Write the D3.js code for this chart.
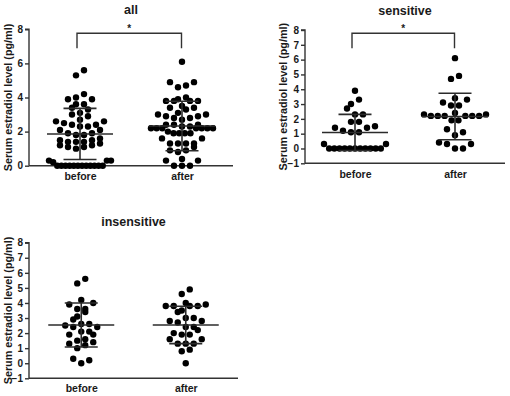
<!DOCTYPE html>
<html>
<head>
<meta charset="utf-8">
<script src="https://cdn.jsdelivr.net/npm/d3@7"></script>
<style>
  html, body { margin: 0; padding: 0; background: #fff; }
  svg { display: block; }
  text { font-family: "Liberation Sans", Arial, sans-serif; font-weight: bold; fill: #1a1a1a; }
</style>
</head>
<body>
<svg id="chart" width="510" height="396"></svg>
<script>
// ---------- data ----------
const categories = ["before", "after"];

const sensBefore = [3.9, 3.3, 3.0, 2.7, 2.3, 2.3, 1.8, 1.8, 1.5, 1.4, 1.4, 1.2, 1.1, 1.1, 0.3, 0.3,
  0, 0, 0, 0, 0, 0, 0, 0, 0, 0, 0];
const sensAfter = [6.1, 4.9, 4.7, 3.4, 3.3, 3.1, 2.9, 2.9, 2.4, 2.3, 2.3, 2.2, 2.2, 2.2, 2.2, 2.2, 2.2,
  1.9, 1.9, 1.3, 1.1, 0.9, 0.4, 0.3, 0.3, 0, 0];
const insensBefore = [5.6, 5.3, 4.2, 4.0, 3.9, 3.6, 3.6, 3.4, 3.1, 2.9, 2.6, 2.6, 2.5, 2.4, 2.4, 2.1, 2.1,
  1.9, 1.9, 1.6, 1.5, 1.4, 1.3, 1.2, 1.0, 0.3, 0.2, 0];
const insensAfter = [4.9, 4.6, 4.0, 3.9, 3.8, 3.8, 3.8, 3.8, 3.5, 3.4, 3.0, 3.0, 2.8, 2.8, 2.7, 2.4, 2.4,
  2.2, 2.0, 1.9, 1.9, 1.6, 1.6, 1.3, 1.3, 1.3, 0.9, 0.8, 0];
const allBefore = [5.6, 5.3, 4.2, 4.0, 3.9, 3.9, 3.6, 3.6, 3.4, 3.3, 3.1, 3.0, 2.9, 2.7, 2.6, 2.6, 2.5,
  2.4, 2.4, 2.3, 2.3, 2.1, 2.1, 1.9, 1.9, 1.8, 1.8, 1.6, 1.5, 1.5, 1.4, 1.4, 1.4, 1.3, 1.2, 1.2,
  1.1, 1.1, 1.0, 0.3, 0.3, 0.3, 0.2, 0, 0, 0, 0, 0, 0, 0, 0, 0, 0, 0, 0];
const allAfter = [6.1, 4.9, 4.9, 4.7, 4.6, 4.0, 3.9, 3.8, 3.8, 3.8, 3.8, 3.5, 3.4, 3.4, 3.3, 3.1, 3.0,
  3.0, 2.9, 2.9, 2.8, 2.8, 2.7, 2.4, 2.4, 2.4, 2.3, 2.3, 2.2, 2.2, 2.2, 2.2, 2.2, 2.2, 2.2, 2.0,
  1.9, 1.9, 1.9, 1.9, 1.6, 1.6, 1.3, 1.3, 1.3, 1.3, 1.1, 0.9, 0.9, 0.8, 0.4, 0.3, 0.3, 0, 0, 0];

const allMean = [1.86, 2.33], allSD = [1.50, 1.45];
const sensMean = [1.08, 2.16], sensSD = [1.22, 1.57];
const insensMean = [2.54, 2.54], insensSD = [1.46, 1.24];

const ticksAll = [0, 2, 4, 6, 8];
const ticksSub = [-1, 0, 1, 2, 3, 4, 5, 6, 7, 8];

const titles = ["all", "sensitive", "insensitive"];
const yLabel = "Serum estradiol level (pg/ml)";
const sigMark = "*";

// ---------- layout ----------
const panels = [
  { title: titles[0], series: [allBefore, allAfter], mean: allMean, sd: allSD,
    domain: [0, 8], ticks: ticksAll, x0: 29, x1: 233, yTop: 29.3, yBot: 165.7,
    titleY: 13.5, labelX: 8.5, xLabY: 180.5, sig: { y: 7.77, drop: 6.89 } },
  { title: titles[1], series: [sensBefore, sensAfter], mean: sensMean, sd: sensSD,
    domain: [-1, 8], ticks: ticksSub, x0: 305, x1: 505, yTop: 30, yBot: 163.3,
    titleY: 15, labelX: 283.5, xLabY: 178.5, sig: { y: 7.78, drop: 6.77 } },
  { title: titles[2], series: [insensBefore, insensAfter], mean: insensMean, sd: insensSD,
    domain: [-1, 8], ticks: ticksSub, x0: 29, x1: 238, yTop: 242.7, yBot: 378.3,
    titleY: 226, labelX: 8.5, xLabY: 392.5, sig: null }
];

const svg = d3.select("#chart");
const ink = "#333";
const R = 3.2;

function swarm(values, y, cx, sMax, maxW, rowPx) {
  const sorted = values.slice().sort((a, b) => a - b);
  const rows = [];
  let cur = [];
  sorted.forEach(v => {
    if (cur.length && (y(cur[0]) - y(v)) >= rowPx) { rows.push(cur); cur = []; }
    cur.push(v);
  });
  if (cur.length) rows.push(cur);
  const pts = [];
  rows.forEach(row => {
    const n = row.length;
    const s = n > 1 ? Math.min(sMax, maxW / (n - 1)) : 0;
    row.forEach((v, i) => {
      let off;
      if (n % 2 === 1) {
        const k = Math.ceil(i / 2);
        off = i === 0 ? 0 : (i % 2 ? 1 : -1) * k * s;
      } else {
        const k = Math.floor(i / 2);
        off = (i % 2 ? 1 : -1) * (k + 0.5) * s;
      }
      pts.push({ x: cx + off, y: y(v) });
    });
  });
  return pts;
}

panels.forEach(p => {
  const g = svg.append("g");
  const y = d3.scaleLinear().domain(p.domain).range([p.yBot, p.yTop]);
  const x = d3.scalePoint().domain(categories).range([p.x0, p.x1]).padding(0.5);

  // y axis
  const yAxis = d3.axisLeft(y).tickValues(p.ticks).tickSize(4).tickPadding(2).tickFormat(d3.format("d"));
  const ya = g.append("g").attr("transform", `translate(${p.x0},0)`).call(yAxis);
  ya.select(".domain").attr("stroke", ink).attr("stroke-width", 1.4).attr("d", `M-4,${p.yTop}H0V${p.yBot}`);
  ya.selectAll(".tick line").attr("stroke", ink).attr("stroke-width", 1.4);
  ya.selectAll(".tick text").style("font-size", "10px").style("font-family", "'Liberation Sans', Arial, sans-serif")
    .style("font-weight", "bold").attr("fill", "#222");

  // x axis
  const xAxis = d3.axisBottom(x).tickSize(0).tickPadding(0);
  const xa = g.append("g").attr("transform", `translate(0,${p.yBot})`).call(xAxis);
  xa.select(".domain").attr("stroke", ink).attr("stroke-width", 1.4).attr("d", `M${p.x0},0H${p.x1}`);
  xa.selectAll(".tick text").attr("y", p.xLabY - p.yBot).attr("dy", 0)
    .style("font-size", "10.5px").style("font-family", "'Liberation Sans', Arial, sans-serif")
    .style("font-weight", "bold").attr("fill", "#222");

  // title
  g.append("text").attr("x", (p.x0 + p.x1) / 2).attr("y", p.titleY).attr("text-anchor", "middle")
    .style("font-size", "12.5px").text(p.title);

  // y label
  g.append("text").attr("transform", `translate(${p.labelX},${(p.yTop + p.yBot) / 2}) rotate(-90)`)
    .attr("text-anchor", "middle").attr("dy", "0.35em").style("font-size", "10.8px").text(yLabel);

  // dots
  p.series.forEach((vals, i) => {
    const pts = swarm(vals, y, x(categories[i]), 8, 62, 6.5);
    g.append("g").selectAll("circle").data(pts).join("circle")
      .attr("cx", d => d.x).attr("cy", d => d.y).attr("r", R).attr("fill", "#000");
  });

  // mean & SD bars
  categories.forEach((c, i) => {
    const cx = x(c), m = p.mean[i], s = p.sd[i];
    const lo = Math.max(m - s, p.domain[0]);
    const bg = g.append("g").attr("stroke", "#2b2b2b").attr("stroke-width", 1.6).attr("fill", "none");
    bg.append("line").attr("x1", cx - 33).attr("x2", cx + 33).attr("y1", y(m)).attr("y2", y(m));
    bg.append("line").attr("x1", cx).attr("x2", cx).attr("y1", y(m + s)).attr("y2", y(lo));
    bg.append("line").attr("x1", cx - 16.5).attr("x2", cx + 16.5).attr("y1", y(m + s)).attr("y2", y(m + s));
    if (m - s >= p.domain[0]) {
      bg.append("line").attr("x1", cx - 16.5).attr("x2", cx + 16.5).attr("y1", y(m - s)).attr("y2", y(m - s));
    }
  });

  // significance bracket
  if (p.sig) {
    const xa0 = x(categories[0]) - 3, xa1 = x(categories[1]) - 0.5;
    g.append("path")
      .attr("d", `M${xa0},${y(p.sig.drop)}V${y(p.sig.y)}H${xa1}V${y(p.sig.drop)}`)
      .attr("fill", "none").attr("stroke", ink).attr("stroke-width", 1.4);
    g.append("text").attr("x", (xa0 + xa1) / 2).attr("y", y(p.sig.y) - 1)
      .attr("text-anchor", "middle").style("font-size", "10px").text(sigMark);
  }
});
</script>
</body>
</html>
